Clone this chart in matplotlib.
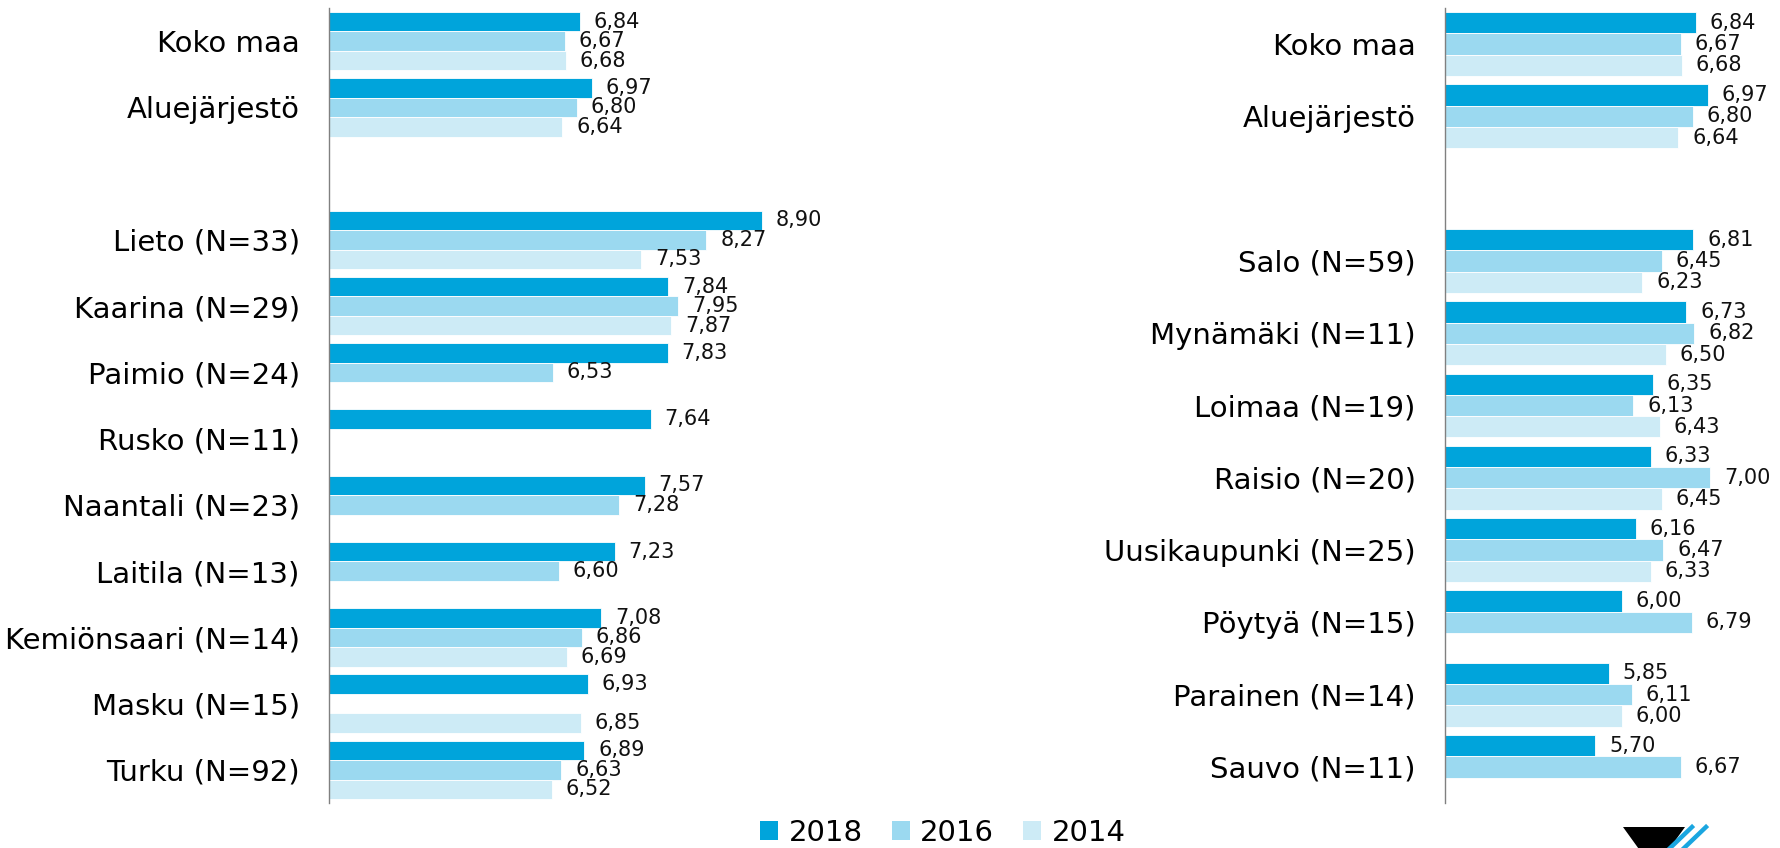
import numpy as np
import matplotlib
matplotlib.use("Agg")
import matplotlib.pyplot as plt
from matplotlib.patches import Patch, Polygon

nan = np.nan

# left panel
left_labels = ["Koko maa", "Aluejärjestö", "", "Lieto (N=33)", "Kaarina (N=29)",
               "Paimio (N=24)", "Rusko (N=11)", "Naantali (N=23)", "Laitila (N=13)",
               "Kemiönsaari (N=14)", "Masku (N=15)", "Turku (N=92)"]
left_2018 = [6.84, 6.97, nan, 8.90, 7.84, 7.83, 7.64, 7.57, 7.23, 7.08, 6.93, 6.89]
left_2016 = [6.67, 6.80, nan, 8.27, 7.95, 6.53, nan, 7.28, 6.60, 6.86, nan, 6.63]
left_2014 = [6.68, 6.64, nan, 7.53, 7.87, nan, nan, nan, nan, 6.69, 6.85, 6.52]

# right panel
right_labels = ["Koko maa", "Aluejärjestö", "", "Salo (N=59)", "Mynämäki (N=11)",
                "Loimaa (N=19)", "Raisio (N=20)", "Uusikaupunki (N=25)",
                "Pöytyä (N=15)", "Parainen (N=14)", "Sauvo (N=11)"]
right_2018 = [6.84, 6.97, nan, 6.81, 6.73, 6.35, 6.33, 6.16, 6.00, 5.85, 5.70]
right_2016 = [6.67, 6.80, nan, 6.45, 6.82, 6.13, 7.00, 6.47, 6.79, 6.11, 6.67]
right_2014 = [6.68, 6.64, nan, 6.23, 6.50, 6.43, 6.45, 6.33, nan, 6.00, nan]

years = ["2018", "2016", "2014"]
colors = ["#00a4db", "#9bd9f0", "#cdebf6"]

W, H = 1780, 848
fig = plt.figure(figsize=(W / 100, H / 100), dpi=100)

bar_h = 0.295


def draw_panel(ax, labels, series, xmax):
    n = len(labels)
    y = np.arange(n)
    for k, (vals, col) in enumerate(zip(series, colors)):
        vals = np.array(vals, dtype=float)
        pos = y + (k - 1) * bar_h
        ax.barh(pos, vals - 4, left=4, height=bar_h, color=col,
                edgecolor="white", linewidth=0.6)
        for p, v in zip(pos, vals):
            if np.isnan(v):
                continue
            ax.annotate(f"{v:.2f}".replace(".", ","), (v, p), xytext=(10, 0),
                        textcoords="offset points", va="center", ha="left",
                        fontsize=15, color="#111111")
    ax.set_xlim(4, xmax)
    ax.set_ylim(n - 0.5, -0.5)
    ax.set_yticks(y)
    ax.set_yticklabels(labels, fontsize=21)
    ax.tick_params(axis="y", length=0, pad=21)
    ax.set_xticks([])
    for s in ["top", "right", "bottom"]:
        ax.spines[s].set_visible(False)
    ax.spines["left"].set_color("#808080")
    ax.spines["left"].set_linewidth(1.0)


ax_bottom = 1 - 803 / H
ax_height = (803 - 8) / H

ax1 = fig.add_axes([329 / W, ax_bottom, 530.4 / W, ax_height])
draw_panel(ax1, left_labels, [left_2018, left_2016, left_2014], 10)

ax2 = fig.add_axes([1445 / W, ax_bottom, 335 / W, ax_height])
draw_panel(ax2, right_labels, [right_2018, right_2016, right_2014], 4 + 335 / 88.4)

handles = [Patch(facecolor=c, edgecolor="none") for c in colors]
fig.legend(handles, years, loc="center", bbox_to_anchor=(943 / W, 1 - 833 / H),
           ncol=3, frameon=False, fontsize=21, handlelength=0.62, handleheight=0.65,
           handletextpad=0.35, columnspacing=1.0, borderpad=0)

# logo fragment bottom right
fig.patches.append(Polygon([(1623 / W, 1 - 827 / H), (1685 / W, 1 - 827 / H),
                            (1654 / W, 1 - 870 / H)], closed=True,
                           transform=fig.transFigure, facecolor="black",
                           edgecolor="none", clip_on=False))
for dx in (0, 14):
    fig.lines.append(plt.Line2D([(1692 + dx) / W, (1668 + dx) / W],
                                [1 - 827 / H, 1 - 850 / H],
                                transform=fig.transFigure, color="#1aa6e0",
                                linewidth=3.2))

fig.savefig("out.png", dpi=100)
